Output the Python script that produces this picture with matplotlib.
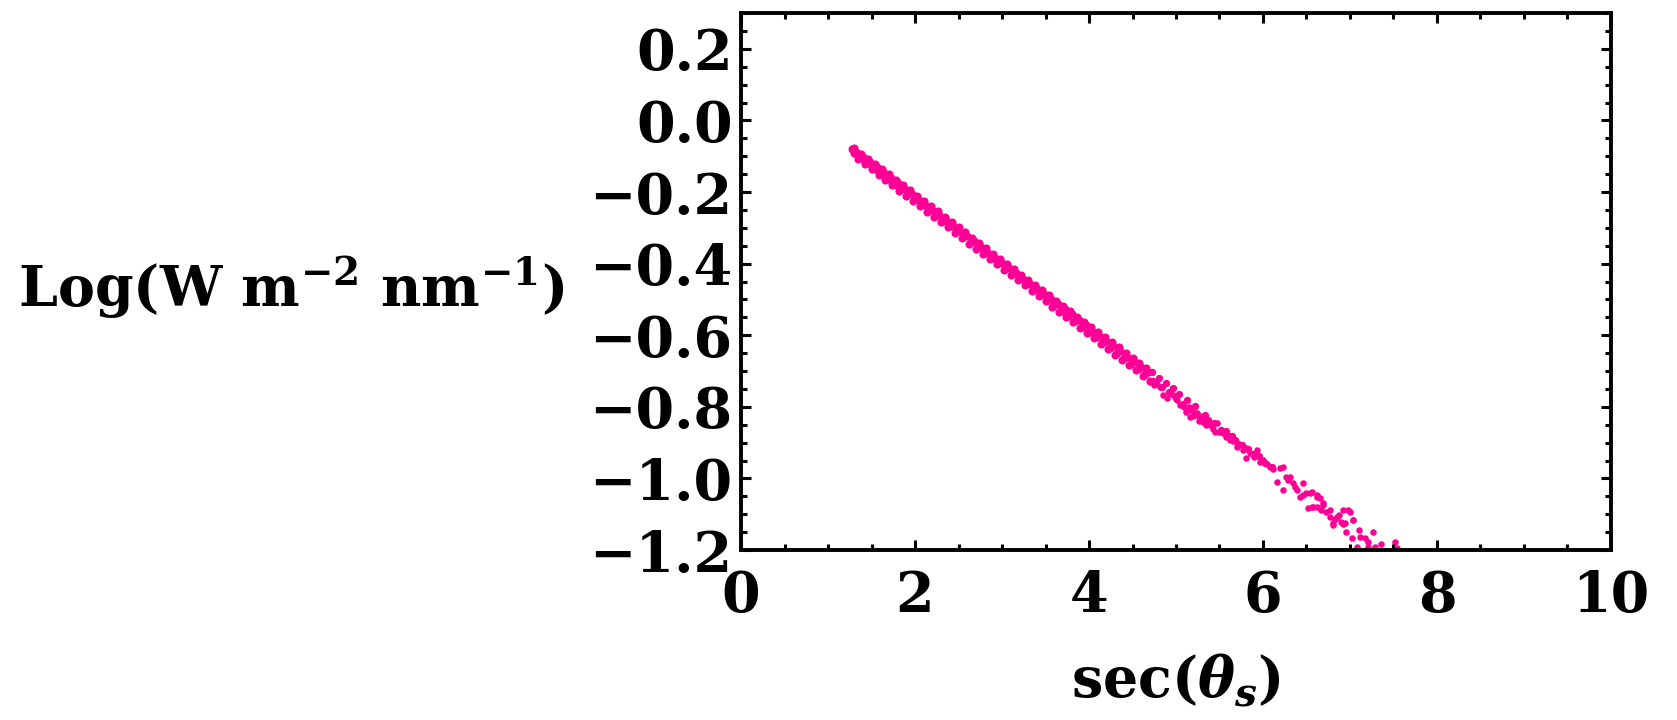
import matplotlib
matplotlib.use('Agg')
import matplotlib.pyplot as plt
from matplotlib.ticker import MultipleLocator, FuncFormatter

# banda densa, sec(theta) ~1.28 a 4.7
x_denso = [1.28, 1.30, 1.32, 1.34, 1.36, 1.38, 1.40, 1.42, 1.44, 1.46, 1.48, 1.50,
           1.52, 1.54, 1.56, 1.58, 1.60, 1.62, 1.64, 1.66, 1.68, 1.70, 1.72, 1.74,
           1.76, 1.78, 1.80, 1.84, 1.88, 1.92, 1.96, 2.00, 2.04, 2.08, 2.12, 2.16,
           2.20, 2.24, 2.28, 2.32, 2.36, 2.40, 2.44, 2.48, 2.52, 2.56, 2.60, 2.64,
           2.68, 2.72, 2.76, 2.80, 2.84, 2.88, 2.92, 2.96, 3.00, 3.04, 3.08, 3.12,
           3.16, 3.20, 3.24, 3.28, 3.32, 3.36, 3.40, 3.44, 3.48, 3.52, 3.56, 3.60,
           3.64, 3.68, 3.72, 3.76, 3.80, 3.84, 3.88, 3.92, 3.96, 4.00, 4.04, 4.08,
           4.12, 4.16, 4.20, 4.24, 4.28, 4.32, 4.36, 4.40, 4.44, 4.48, 4.52, 4.56,
           4.60, 4.64, 4.68]
y_denso = [-0.080, -0.092, -0.088, -0.099, -0.094, -0.106, -0.101, -0.113, -0.109, -0.120,
           -0.116, -0.127, -0.124, -0.135, -0.131, -0.142, -0.138, -0.149, -0.146, -0.157,
           -0.153, -0.164, -0.160, -0.171, -0.168, -0.179, -0.176, -0.190, -0.191, -0.206,
           -0.205, -0.219, -0.221, -0.234, -0.236, -0.249, -0.250, -0.265, -0.264, -0.280,
           -0.278, -0.294, -0.294, -0.309, -0.309, -0.324, -0.323, -0.339, -0.338, -0.353,
           -0.353, -0.367, -0.369, -0.383, -0.383, -0.398, -0.397, -0.413, -0.411, -0.428,
           -0.426, -0.441, -0.442, -0.457, -0.456, -0.472, -0.470, -0.487, -0.485, -0.501,
           -0.499, -0.516, -0.514, -0.531, -0.528, -0.546, -0.542, -0.561, -0.557, -0.576,
           -0.572, -0.590, -0.588, -0.605, -0.601, -0.620, -0.616, -0.635, -0.630, -0.650,
           -0.645, -0.664, -0.660, -0.680, -0.673, -0.694, -0.688, -0.709, -0.703]

# segunda fileira da banda densa (bordas superior/inferior)
x_denso2 = [1.30, 1.34, 1.38, 1.42, 1.46, 1.50, 1.54, 1.58, 1.62, 1.66,
            1.70, 1.74, 1.78, 1.82, 1.86, 1.90, 1.94, 1.98, 2.02, 2.06,
            2.10, 2.14, 2.18, 2.22, 2.26, 2.30, 2.34, 2.38, 2.42, 2.46,
            2.50, 2.54, 2.58, 2.62, 2.66, 2.70, 2.74, 2.78, 2.82, 2.86,
            2.90, 2.94, 2.98, 3.02, 3.06, 3.10, 3.14, 3.18, 3.22, 3.26,
            3.30, 3.34, 3.38, 3.42, 3.46, 3.50, 3.54, 3.58, 3.62, 3.66,
            3.70, 3.74, 3.78, 3.82, 3.86, 3.90, 3.94, 3.98, 4.02, 4.06,
            4.10, 4.14, 4.18, 4.22, 4.26, 4.30, 4.34, 4.38, 4.42, 4.46,
            4.50, 4.54, 4.58, 4.62, 4.66, 4.70]
y_denso2 = [-0.078, -0.108, -0.093, -0.122, -0.107, -0.137, -0.121, -0.152, -0.137, -0.167,
            -0.151, -0.181, -0.166, -0.196, -0.181, -0.211, -0.195, -0.226, -0.210, -0.240,
            -0.225, -0.255, -0.239, -0.270, -0.254, -0.285, -0.269, -0.299, -0.284, -0.314,
            -0.298, -0.329, -0.313, -0.344, -0.328, -0.358, -0.342, -0.373, -0.357, -0.388,
            -0.372, -0.402, -0.386, -0.417, -0.401, -0.432, -0.416, -0.447, -0.431, -0.461,
            -0.445, -0.476, -0.460, -0.491, -0.475, -0.505, -0.489, -0.520, -0.504, -0.535,
            -0.519, -0.549, -0.533, -0.564, -0.548, -0.579, -0.563, -0.594, -0.577, -0.608,
            -0.592, -0.624, -0.606, -0.639, -0.620, -0.654, -0.634, -0.669, -0.649, -0.684,
            -0.663, -0.698, -0.678, -0.713, -0.692, -0.728]

# transicao, sec(theta) ~4.7 a 6.1
x_meio = [4.72, 4.74, 4.80, 4.84, 4.88, 4.92, 4.96, 5.00, 5.04, 5.08, 5.13, 5.18,
          5.22, 5.26, 5.33, 5.37, 5.44, 5.52, 5.57, 5.64, 5.68, 5.76, 5.83, 5.88,
          5.95, 6.02, 6.10]
y_meio = [-0.704, -0.727, -0.720, -0.746, -0.733, -0.760, -0.748, -0.776, -0.764, -0.792,
          -0.780, -0.810, -0.797, -0.826, -0.822, -0.838, -0.845, -0.866, -0.868, -0.882,
          -0.892, -0.908, -0.918, -0.932, -0.938, -0.958, -0.968]

# parte dispersa, sec(theta) ~4.7 a 7.5
x_disperso = [4.70, 4.75, 4.78, 4.82, 4.85, 4.90, 4.93, 4.97, 5.01, 5.05, 5.09, 5.12,
              5.15, 5.16, 5.20, 5.24, 5.27, 5.30, 5.31, 5.35, 5.39, 5.42, 5.45, 5.47,
              5.50, 5.54, 5.58, 5.60, 5.62, 5.65, 5.70, 5.70, 5.73, 5.77, 5.80, 5.81,
              5.85, 5.90, 5.93, 5.97, 6.00, 6.05, 6.08, 6.12, 6.16, 6.20, 6.23, 6.23,
              6.27, 6.29, 6.31, 6.35, 6.37, 6.39, 6.43, 6.46, 6.46, 6.50, 6.52, 6.54,
              6.56, 6.56, 6.58, 6.62, 6.62, 6.62, 6.66, 6.67, 6.69, 6.69, 6.73, 6.77,
              6.77, 6.81, 6.81, 6.83, 6.85, 6.87, 6.90, 6.92, 6.92, 6.94, 6.96, 6.98,
              7.00, 7.02, 7.04, 7.04, 7.08, 7.10, 7.12, 7.17, 7.21, 7.21, 7.27, 7.29,
              7.36, 7.52, 7.54]
y_disperso = [-0.730, -0.740, -0.737, -0.744, -0.767, -0.775, -0.762, -0.766, -0.781, -0.795,
              -0.800, -0.814, -0.800, -0.828, -0.825, -0.818, -0.840, -0.830, -0.842, -0.850,
              -0.851, -0.862, -0.870, -0.846, -0.870, -0.874, -0.885, -0.880, -0.893, -0.895,
              -0.911, -0.900, -0.905, -0.921, -0.915, -0.944, -0.930, -0.940, -0.921, -0.955,
              -0.949, -0.960, -0.967, -0.975, -1.009, -0.972, -0.967, -1.032, -0.995, -1.004,
              -0.995, -1.014, -1.023, -1.032, -1.051, -1.046, -1.014, -1.042, -1.083, -1.042,
              -1.037, -1.079, -1.079, -1.046, -1.079, -1.051, -1.056, -1.088, -1.069, -1.074,
              -1.093, -1.107, -1.088, -1.130, -1.125, -1.112, -1.107, -1.102, -1.121, -1.088,
              -1.128, -1.125, -1.149, -1.088, -1.093, -1.167, -1.116, -1.116, -1.191, -1.144,
              -1.163, -1.167, -1.177, -1.191, -1.149, -1.191, -1.183, -1.177, -1.193]

x_ticks = [0, 2, 4, 6, 8, 10]
y_ticks = [-1.2, -1.0, -0.8, -0.6, -0.4, -0.2, 0.0, 0.2]

cor = '#ff0096'

plt.rcParams['font.family'] = 'DejaVu Serif'
plt.rcParams['font.weight'] = 'bold'
plt.rcParams['mathtext.fontset'] = 'custom'
plt.rcParams['mathtext.rm'] = 'DejaVu Serif:bold'
plt.rcParams['mathtext.bf'] = 'DejaVu Serif:bold'
plt.rcParams['mathtext.it'] = 'DejaVu Serif:bold:italic'

fig = plt.figure(figsize=(16.77, 7.2), dpi=100)
ax = fig.add_axes([0.4419, 0.2361, 0.5187, 0.7458])

ax.scatter(x_denso + x_denso2, y_denso + y_denso2, s=34, color=cor, linewidths=0)
ax.scatter(x_meio, y_meio, s=28, color=cor, linewidths=0)
ax.scatter(x_disperso, y_disperso, s=22, color=cor, linewidths=0)

ax.set_xlim(0, 10)
ax.set_ylim(-1.2, 0.3)
ax.set_xticks(x_ticks)
ax.set_yticks(y_ticks)
ax.xaxis.set_minor_locator(MultipleLocator(0.5))
ax.yaxis.set_minor_locator(MultipleLocator(0.05))
ax.xaxis.set_major_formatter(FuncFormatter(lambda v, p: f'{v:g}'))
ax.yaxis.set_major_formatter(FuncFormatter(lambda v, p: f'{v:.1f}'.replace('-', '\u2212')))

ax.tick_params(which='both', direction='in', top=True, right=True, width=2.2,
               labelsize=40)
ax.tick_params(axis='y', pad=6)
ax.tick_params(axis='x', pad=14)
ax.tick_params(which='major', length=7)
ax.tick_params(which='minor', length=4)
for lado in ax.spines.values():
    lado.set_linewidth(2.8)

for lbl in ax.get_xticklabels() + ax.get_yticklabels():
    lbl.set_fontweight('bold')

ax.set_xlabel(r'sec($\theta_s$)', fontsize=40, fontweight='bold', labelpad=20)
fig.text(0.011, 0.60, r'Log(W m$^{\mathbf{-2}}$ nm$^{\mathbf{-1}}$)', fontsize=40,
         fontweight='bold', ha='left', va='center')

plt.savefig('out.png', dpi=100)
plt.close()
